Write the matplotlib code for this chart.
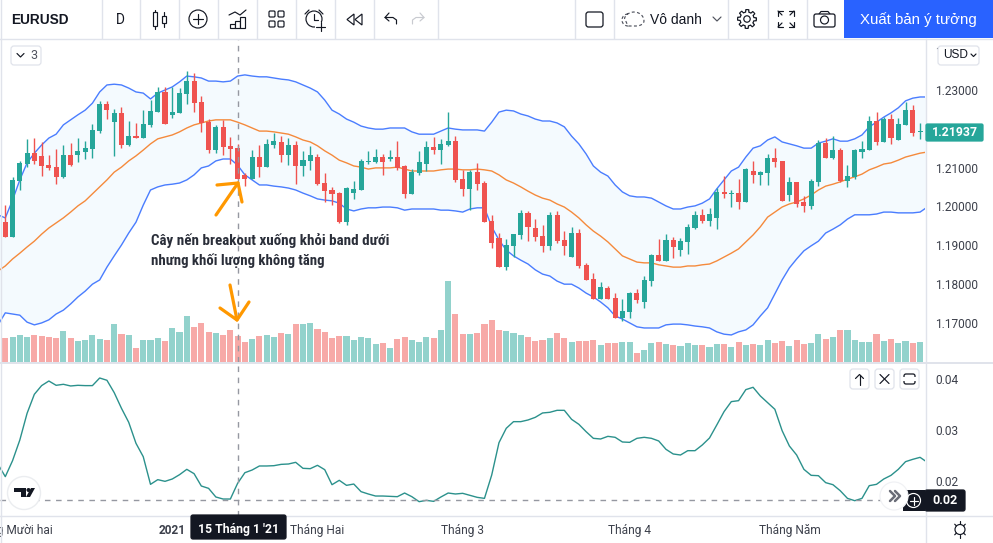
import numpy as np
import matplotlib
matplotlib.use('Agg')
import matplotlib.pyplot as plt
from matplotlib.patches import FancyBboxPatch, Rectangle, Circle, Polygon

# EURUSD daily candles
opens = [1.1959,1.1921,1.2065,1.2109,1.2137,1.2130,1.2106,1.2101,1.2076,1.2132,1.2132,1.2140,1.2148,1.2194,1.2264,1.2217,1.2241,1.2158,1.2181,1.2176,
         1.2210,1.2243,1.2295,1.2236,1.2241,1.2290,1.2323,1.2269,1.2217,1.2145,1.2205,1.2156,1.2150,1.2081,1.2070,1.2127,1.2101,1.2158,1.2166,1.2132,
         1.2158,1.2104,1.2117,1.2127,1.2060,1.2042,1.2034,1.1959,1.2034,1.2042,1.2114,1.2114,1.2127,1.2122,1.2127,1.2104,1.2032,1.2086,1.2109,1.2153,
         1.2145,1.2158,1.2168,1.2070,1.2045,1.2088,1.2060,1.1962,1.1918,1.1843,1.1898,1.1926,1.1983,1.1944,1.1923,1.1898,1.1978,1.1913,1.1869,1.1931,
         1.1849,1.1812,1.1761,1.1789,1.1763,1.1712,1.1727,1.1776,1.1753,1.1807,1.1874,1.1859,1.1913,1.1887,1.1908,1.1944,1.1978,1.1962,1.1970,1.2037,
         1.2032,1.2034,1.2011,1.2091,1.2081,1.2086,1.2125,1.2117,1.2029,1.2063,1.2011,1.2001,1.2063,1.2163,1.2125,1.2145,1.2065,1.2076,1.2140,1.2145,
         1.2220,1.2166,1.2225,1.2171,1.2210,1.2248,1.2192]
closes = [1.1921,1.2068,1.2112,1.2137,1.2117,1.2104,1.2099,1.2076,1.2132,1.2106,1.2143,1.2150,1.2197,1.2264,1.2248,1.2241,1.2158,1.2181,1.2176,1.2212,
          1.2246,1.2295,1.2212,1.2243,1.2292,1.2323,1.2266,1.2215,1.2145,1.2205,1.2153,1.2148,1.2070,1.2070,1.2127,1.2101,1.2161,1.2168,1.2132,1.2158,
          1.2104,1.2119,1.2132,1.2057,1.2039,1.2032,1.1959,1.2047,1.2045,1.2117,1.2117,1.2127,1.2114,1.2127,1.2099,1.2032,1.2088,1.2114,1.2153,1.2145,
          1.2161,1.2168,1.2068,1.2045,1.2088,1.2057,1.1959,1.1905,1.1843,1.1900,1.1928,1.1983,1.1947,1.1921,1.1898,1.1978,1.1910,1.1898,1.1931,1.1846,
          1.1810,1.1761,1.1792,1.1761,1.1712,1.1730,1.1776,1.1758,1.1810,1.1874,1.1859,1.1913,1.1895,1.1910,1.1947,1.1978,1.1962,1.1980,1.2037,1.2032,
          1.2034,1.2011,1.2096,1.2081,1.2088,1.2125,1.2114,1.2014,1.2063,1.2006,1.2001,1.2065,1.2163,1.2125,1.2145,1.2065,1.2078,1.2145,1.2148,1.2220,
          1.2166,1.2225,1.2176,1.2212,1.2248,1.2189,1.21937]
highs = [1.2003,1.2076,1.2117,1.2174,1.2176,1.2166,1.2132,1.2148,1.2158,1.2163,1.2176,1.2168,1.2212,1.2272,1.2272,1.2251,1.2256,1.2220,1.2215,1.2248,
         1.2274,1.2308,1.2308,1.2308,1.2305,1.2349,1.2344,1.2285,1.2225,1.2210,1.2223,1.2179,1.2161,1.2086,1.2145,1.2158,1.2174,1.2189,1.2181,1.2176,
         1.2168,1.2143,1.2156,1.2135,1.2086,1.2050,1.2037,1.2050,1.2065,1.2122,1.2143,1.2148,1.2135,1.2145,1.2168,1.2106,1.2096,1.2143,1.2168,1.2179,
         1.2174,1.2243,1.2181,1.2094,1.2094,1.2112,1.2065,1.1978,1.1931,1.1916,1.1928,1.1990,1.1988,1.1967,1.1952,1.1985,1.1988,1.1936,1.1947,1.1941,
         1.1854,1.1828,1.1805,1.1794,1.1776,1.1761,1.1779,1.1787,1.1820,1.1877,1.1916,1.1928,1.1921,1.1918,1.1954,1.1988,1.1993,1.1996,1.2047,1.2078,
         1.2042,1.2070,1.2099,1.2117,1.2091,1.2135,1.2150,1.2117,1.2076,1.2063,1.2027,1.2070,1.2171,1.2176,1.2181,1.2150,1.2106,1.2148,1.2168,1.2233,
         1.2243,1.2230,1.2238,1.2228,1.2269,1.2261,1.2215]
lows = [1.1921,1.1921,1.2042,1.2101,1.2109,1.2078,1.2094,1.2057,1.2073,1.2104,1.2114,1.2122,1.2125,1.2189,1.2225,1.2130,1.2150,1.2156,1.2176,1.2176,
        1.2205,1.2243,1.2212,1.2228,1.2241,1.2264,1.2243,1.2192,1.2137,1.2137,1.2132,1.2109,1.2070,1.2052,1.2070,1.2076,1.2101,1.2150,1.2114,1.2106,
        1.2057,1.2078,1.2094,1.2055,1.2011,1.2003,1.1957,1.1952,1.2019,1.2042,1.2109,1.2112,1.2081,1.2117,1.2094,1.2021,1.2032,1.2081,1.2091,1.2135,
        1.2109,1.2156,1.2063,1.2027,1.1990,1.2042,1.1959,1.1892,1.1843,1.1836,1.1869,1.1916,1.1910,1.1910,1.1882,1.1887,1.1905,1.1874,1.1869,1.1841,
        1.1810,1.1761,1.1761,1.1761,1.1712,1.1704,1.1712,1.1750,1.1738,1.1794,1.1859,1.1859,1.1867,1.1872,1.1877,1.1941,1.1957,1.1949,1.1941,1.2021,
        1.1998,1.1993,1.2011,1.2060,1.2055,1.2055,1.2101,1.2014,1.2014,1.1998,1.1985,1.1993,1.2052,1.2125,1.2122,1.2063,1.2050,1.2070,1.2125,1.2145,
        1.2158,1.2166,1.2161,1.2171,1.2210,1.2181,1.2174]
volumes = [24,25,27,25,27,26,25,24,31,24,21,22,27,23,22,38,28,27,14,22,22,24,21,34,30,46,35,39,30,29,27,32,26,20,23,26,27,25,29,28,
           38,38,39,33,30,24,26,26,22,25,24,18,19,14,23,25,22,20,25,24,32,81,48,28,28,29,
           38,42,32,31,29,27,25,21,22,24,29,24,20,21,21,22,17,19,19,20,20,9,12,19,20,18,17,16,19,17,17,15,18,18,15,20,17,18,17,22,
           19,21,16,22,18,19,28,23,25,32,32,22,20,20,28,21,23,19,21,19,20]

# Bollinger bands, one point per bar, starting one bar left of the first candle
bb_upper = [1.1978,1.1970,1.2016,1.2068,1.2112,1.2137,1.2158,1.2176,1.2186,1.2210,1.2223,1.2236,1.2248,1.2266,1.2295,1.2313,1.2315,1.2313,1.2305,1.2295,
            1.2292,1.2277,1.2292,1.2300,1.2308,1.2321,1.2336,1.2334,1.2331,1.2323,1.2323,1.2321,1.2323,1.2336,1.2339,1.2336,1.2334,1.2334,1.2331,1.2328,
            1.2326,1.2321,1.2313,1.2305,1.2295,1.2274,1.2248,1.2238,1.2225,1.2217,1.2207,1.2202,1.2199,1.2199,1.2202,1.2202,1.2202,1.2192,1.2186,1.2186,
            1.2186,1.2194,1.2202,1.2199,1.2197,1.2197,1.2197,1.2194,1.2217,1.2243,1.2248,1.2246,1.2238,1.2233,1.2225,1.2220,1.2220,1.2215,1.2205,1.2181,
            1.2161,1.2135,1.2104,1.2088,1.2078,1.2055,1.2037,1.2027,1.2024,1.2024,1.2021,1.2011,1.2001,1.1993,1.1993,1.1998,1.2001,1.2008,1.2019,1.2045,
            1.2068,1.2091,1.2101,1.2127,1.2150,1.2156,1.2171,1.2179,1.2166,1.2161,1.2156,1.2150,1.2150,1.2163,1.2168,1.2174,1.2168,1.2168,1.2174,1.2184,
            1.2205,1.2217,1.2230,1.2241,1.2254,1.2272,1.2279,1.2282,1.2282]
bb_mid = [1.1833,1.1846,1.1864,1.1879,1.1895,1.1910,1.1928,1.1944,1.1957,1.1970,1.1985,1.2001,1.2014,1.2032,1.2050,1.2068,1.2088,1.2101,1.2117,1.2130,
          1.2145,1.2161,1.2174,1.2179,1.2184,1.2192,1.2202,1.2210,1.2215,1.2220,1.2223,1.2223,1.2223,1.2217,1.2210,1.2202,1.2194,1.2194,1.2192,1.2189,
          1.2186,1.2179,1.2171,1.2166,1.2156,1.2143,1.2132,1.2119,1.2112,1.2104,1.2101,1.2096,1.2099,1.2099,1.2099,1.2101,1.2096,1.2091,1.2091,1.2091,
          1.2091,1.2094,1.2096,1.2096,1.2094,1.2094,1.2096,1.2094,1.2091,1.2081,1.2068,1.2060,1.2050,1.2039,1.2029,1.2021,1.2016,1.2006,1.1998,1.1985,
          1.1970,1.1952,1.1936,1.1923,1.1908,1.1890,1.1872,1.1864,1.1856,1.1854,1.1854,1.1849,1.1846,1.1843,1.1843,1.1846,1.1846,1.1849,1.1851,1.1859,
          1.1869,1.1879,1.1890,1.1908,1.1926,1.1947,1.1972,1.1985,1.1998,1.2006,1.2011,1.2019,1.2029,1.2042,1.2052,1.2057,1.2063,1.2070,1.2076,1.2083,
          1.2094,1.2101,1.2109,1.2112,1.2119,1.2127,1.2132,1.2137,1.2140]
bb_lower = [1.1694,1.1725,1.1722,1.1719,1.1701,1.1694,1.1699,1.1707,1.1722,1.1732,1.1748,1.1766,1.1781,1.1799,1.1810,1.1843,1.1872,1.1900,1.1931,1.1959,
            1.2003,1.2042,1.2050,1.2055,1.2057,1.2060,1.2068,1.2081,1.2099,1.2104,1.2117,1.2122,1.2122,1.2106,1.2081,1.2068,1.2055,1.2055,1.2052,1.2050,
            1.2047,1.2042,1.2034,1.2027,1.2019,1.2016,1.2014,1.2008,1.1993,1.1988,1.1993,1.1996,1.1996,1.1998,1.1998,1.1996,1.1990,1.1993,1.1993,1.1993,
            1.1993,1.1990,1.1990,1.1988,1.1985,1.1993,1.1996,1.1996,1.1947,1.1913,1.1887,1.1872,1.1861,1.1851,1.1836,1.1825,1.1820,1.1807,1.1799,1.1799,
            1.1789,1.1776,1.1766,1.1753,1.1738,1.1717,1.1709,1.1699,1.1689,1.1686,1.1686,1.1686,1.1694,1.1696,1.1696,1.1694,1.1691,1.1689,1.1686,1.1676,
            1.1670,1.1668,1.1676,1.1681,1.1694,1.1717,1.1738,1.1774,1.1810,1.1841,1.1864,1.1885,1.1898,1.1910,1.1931,1.1941,1.1952,1.1967,1.1978,1.1978,
            1.1978,1.1980,1.1985,1.1985,1.1983,1.1983,1.1983,1.1985,1.1998]

# lower pane indicator, same bars as the bands
indicator = [.02321,.02079,.02394,.02800,.03325,.03699,.03870,.03961,.03876,.03896,.03863,.03876,.03870,.03870,.04020,.03975,.03732,.03424,.03148,.02735,
             .02472,.01928,.02020,.01987,.02033,.02118,.02223,.02138,.01895,.01849,.01679,.01639,.01639,.01948,.02157,.02210,.02289,.02289,.02295,.02321,
             .02328,.02361,.02243,.02236,.02302,.02216,.01921,.02007,.01908,.01934,.01784,.01738,.01698,.01698,.01692,.01685,.01757,.01685,.01587,.01613,
             .01593,.01679,.01757,.01738,.01751,.01711,.01672,.01652,.02112,.02748,.03030,.03161,.03161,.03194,.03246,.03332,.03345,.03384,.03384,.03207,
             .03109,.02964,.02833,.02820,.02872,.02853,.02761,.02754,.02833,.02853,.02833,.02781,.02617,.02525,.02505,.02590,.02590,.02702,.02840,.03096,
             .03358,.03555,.03574,.03791,.03837,.03666,.03535,.03404,.02984,.02682,.02505,.02223,.02105,.02098,.01961,.01921,.01803,.01652,.01606,.01652,
             .01902,.01928,.02033,.02105,.02223,.02374,.02420,.02459,.02361]

price_ticks = [1.17, 1.18, 1.19, 1.20, 1.21, 1.23, 1.24]
ind_ticks = [0.02, 0.03, 0.04]
month_pos = [0.9, 23, 43, 63, 86, 108]
month_labels = ['Tháng Mười hai', '2021', 'Tháng Hai', 'Tháng 3', 'Tháng 4', 'Tháng Năm']
last_price = 1.21937
cross_bar = 32.1
cross_ind = 0.0162

W, H = 993, 543
GREEN, RED = '#26a69a', '#ef5350'
GREEN_V, RED_V = '#92d2cc', '#f7a9a7'
BORDER = '#e0e3eb'
DARK = '#131722'
GREY = '#9598a1'
FONT = ['Roboto', 'DejaVu Sans']
plt.rcParams['font.family'] = FONT

fig = plt.figure(figsize=(W / 100, H / 100), dpi=100)


def pane(left, top, right, bottom, z):
    a = fig.add_axes([left / W, 1 - bottom / H, (right - left) / W, (bottom - top) / H], zorder=z)
    a.patch.set_visible(False)
    for s in a.spines.values():
        s.set_visible(False)
    a.set_xlim(-0.73, 126.68)
    return a


ax_vol = pane(0, 39, 925, 362, 1)
ax = pane(0, 39, 925, 362, 2)
ax_ind = pane(0, 363, 925, 516, 2)

bars = np.arange(len(opens))
band_x = np.arange(-1, len(bb_upper) - 1)
up = np.array(closes) >= np.array(opens)
colors = [GREEN if u else RED for u in up]

# volume
ax_vol.bar(bars, volumes, width=0.84, color=[GREEN_V if u else RED_V for u in up], linewidth=0)
ax_vol.set_ylim(0, 323)
ax_vol.axis('off')

# bands and candles
ax.fill_between(band_x, bb_lower, bb_upper, color='#f4fafe', linewidth=0, zorder=1)
ax.plot(band_x, bb_upper, color='#4a7dff', lw=1.0, zorder=2)
ax.plot(band_x, bb_lower, color='#4a7dff', lw=1.0, zorder=2)
ax.plot(band_x, bb_mid, color='#f58a3c', lw=1.0, zorder=2)
ax.vlines(bars, lows, highs, colors=colors, lw=1.0, zorder=3)
body_low = np.minimum(opens, closes)
body_h = np.maximum(np.abs(np.array(closes) - np.array(opens)), 0.00025)
ax.bar(bars, body_h, bottom=body_low, width=0.7, color=colors, linewidth=0, zorder=4)
ax.set_ylim(1.15982, 1.24316)
ax.set_xticks([])
ax.yaxis.tick_right()
ax.set_yticks(price_ticks, [f'{t:.5f}' for t in price_ticks])
ax.tick_params(axis='y', length=0, pad=7.5, labelsize=8.6, labelcolor='#3c404b')
ax.axvline(cross_bar, color=GREY, lw=1, dashes=(4, 4), zorder=5)

# indicator pane
ax_ind.plot(band_x, indicator, color='#2b918c', lw=1.0)
ax_ind.set_ylim(0.01305, 0.04315)
ax_ind.yaxis.tick_right()
ax_ind.set_yticks(ind_ticks, [f'{t:.2f}' for t in ind_ticks])
ax_ind.tick_params(axis='y', length=0, pad=7.5, labelsize=8.6, labelcolor='#3c404b')
ax_ind.axvline(cross_bar, color=GREY, lw=1, dashes=(4, 4))
ax_ind.axhline(cross_ind, color=GREY, lw=1, dashes=(4, 4))
ax_ind.set_xticks(month_pos, month_labels)
ax_ind.tick_params(axis='x', length=0, pad=6, labelsize=8.6, labelcolor='#3c404b')
ax_ind.get_xticklabels()[1].set_fontweight('bold')

# everything else is drawn on an overlay in pixel units
ov = fig.add_axes([0, 0, 1, 1], zorder=5)
ov.set_xlim(0, W)
ov.set_ylim(H, 0)
ov.axis('off')


def line(xs, ys, c=DARK, lw=0.85, **kw):
    ov.plot(xs, ys, color=c, lw=lw, solid_capstyle='round', solid_joinstyle='round', **kw)


def box(x0, y0, x1, y1, fc='white', ec=BORDER, r=3, lw=0.9, z=3):
    ov.add_patch(FancyBboxPatch((x0 + r, y0 + r), x1 - x0 - 2 * r, y1 - y0 - 2 * r,
                                boxstyle=f'round,pad={r},rounding_size={r}', fc=fc, ec=ec, lw=lw, zorder=z))


def circle(x, y, r, fc='none', ec=DARK, lw=0.85, z=3):
    ov.add_patch(Circle((x, y), r, fc=fc, ec=ec, lw=lw, zorder=z))


# frame lines
ov.plot([0, W], [38.5, 38.5], color=BORDER, lw=1)
ov.plot([0, W], [362.5, 362.5], color=BORDER, lw=1.4)
ov.plot([0, W], [515.5, 515.5], color=BORDER, lw=1)
ov.plot([925.5, 925.5], [39, H], color=BORDER, lw=1)
ov.plot([0.5, 0.5], [0, H], color=BORDER, lw=1)
for sx in [101, 139, 178, 217, 256, 295, 334, 373, 437, 574, 613, 727, 767, 806]:
    ov.plot([sx + 0.5, sx + 0.5], [0, 38], color=BORDER, lw=1)

# toolbar
ov.text(11, 19.5, 'EURUSD', fontsize=9.8, fontweight='bold', color=DARK, va='center', family='Liberation Sans')
ov.text(120.5, 19.5, 'D', fontsize=9.8, color=DARK, va='center', ha='center')
# chart type
line([155, 155], [10, 29]); line([164, 164], [12, 27])
ov.add_patch(Rectangle((153, 12), 4, 14, fc='white', ec=DARK, lw=0.85, zorder=3))
ov.add_patch(Rectangle((162, 16), 4, 7, fc='white', ec=DARK, lw=0.85, zorder=3))
# add symbol
circle(198, 19, 9)
line([193, 203], [19, 19]); line([198, 198], [14, 24])
# indicators
line([229, 235, 240, 246], [15, 12, 15, 10])
for bx, by in [(230, 24), (235, 21), (240, 17)]:
    ov.add_patch(Rectangle((bx, by), 5, 27.5 - by, fc='white', ec=DARK, lw=0.85))
# layouts
for gx in [269, 278]:
    for gy in [11, 21]:
        box(gx, gy, gx + 6, gy + 6, ec=DARK, r=1.2, lw=0.85)
# alarm
circle(314, 19, 8)
line([314, 314, 318], [14, 20, 20])
line([305, 309], [14, 10]); line([319, 323], [10, 14])
ov.add_patch(Rectangle((315, 22), 11, 10, fc='white', ec='none', zorder=3))
line([316, 325], [26.5, 26.5], zorder=4); line([320.5, 320.5], [22, 31], zorder=4)
# replay
for tx in [347, 355]:
    ov.add_patch(Polygon([(tx + 7, 14), (tx, 19.5), (tx + 7, 25)], closed=True, fc='white', ec=DARK, lw=0.85))
# undo, redo
line([389, 385, 389], [13, 17.5, 21]); line([385, 393, 396.5, 396.5], [17.5, 17.5, 20, 24])
line([420, 424, 420], [13, 17.5, 21], c='#c8cad0'); line([424, 416, 412.5, 412.5], [17.5, 17.5, 20, 24], c='#c8cad0')
# save box and cloud
box(586, 12, 603, 27, ec=DARK, r=2.5)
cx = np.r_[622 + 6 * np.cos(np.linspace(np.pi / 2, 3 * np.pi / 2, 15)) + 6, 634 + 10 * np.cos(np.linspace(np.pi * 0.9, 0, 15)),
           636 + 8 * np.cos(np.linspace(0, -np.pi / 2, 8)), 628]
cy = np.r_[20 + 6 * np.sin(np.linspace(np.pi / 2, 3 * np.pi / 2, 15)) * -1, 21 - 9 * np.sin(np.linspace(np.pi * 0.9, 0, 15)),
           21 - 5 * np.sin(np.linspace(0, -np.pi / 2, 8)), 26]
ov.plot(cx, cy, color='#50535e', lw=0.85, dashes=(2.5, 2))
ov.text(650, 19.5, 'Vô danh', fontsize=10, color=DARK, va='center', family='Liberation Sans')
line([713, 717, 721], [17, 21, 17], c='#50535e')
# settings
circle(747, 19, 3.2)
gear_t = np.linspace(0, 2 * np.pi, 97)
gear_r = 8.2 + 1.2 * np.sign(np.cos(8 * gear_t))
ov.plot(747 + gear_r * np.cos(gear_t), 19 + gear_r * np.sin(gear_t), color=DARK, lw=0.85)
# fullscreen
for ex, ey, dx, dy in [(778, 11, 1, 1), (794, 11, -1, 1), (778, 27, 1, -1), (794, 27, -1, -1)]:
    line([ex + 5 * dx, ex, ex], [ey, ey, ey + 5 * dy])
    line([ex, ex + 4 * dx], [ey, ey + 4 * dy])
# camera
box(814, 14, 835, 27, ec=DARK, r=2)
line([819, 821, 828, 830], [14, 11.5, 11.5, 14])
circle(824.5, 20, 4)
# publish button
ov.add_patch(Rectangle((844, 0), W - 844, 38, fc='#2962ff', ec='none'))
ov.text(918.5, 19.5, 'Xuất bản ý tưởng', fontsize=10.8, color='white', va='center', ha='center', family='Liberation Sans')

# pane controls
box(11, 46, 41, 65)
line([17, 20.5, 24], [53.5, 57, 53.5], c=DARK, zorder=4)
ov.text(33.5, 55.5, '3', fontsize=9, color='#50535e', ha='center', va='center', zorder=4)
box(938, 46, 979, 65)
ov.text(943, 55.5, 'USD', fontsize=8.6, color=DARK, va='center', zorder=4, family='Liberation Sans')
line([971, 973.5, 976], [54, 56.5, 54], c=DARK, zorder=4)
for bx in [850, 875, 900]:
    box(bx, 369, bx + 19, 389)
line([859.5, 859.5], [374.5, 384.5], zorder=4); line([855.5, 859.5, 863.5], [378.5, 374.5, 378.5], zorder=4)
line([880, 889], [374.5, 383.5], zorder=4); line([880, 889], [383.5, 374.5], zorder=4)
box(904, 374, 915, 384, ec=DARK, r=2, z=4)
ov.add_patch(Rectangle((902, 377), 15, 4, fc='white', ec='none', zorder=5))

# annotation arrows
ORANGE = '#ff9800'
line([216, 238, 217], [215, 183, 185], c=ORANGE, lw=2.3)
line([238, 242], [183, 202], c=ORANGE, lw=2.3)
line([230, 237, 220], [285, 320, 308], c=ORANGE, lw=2.3)
line([237, 249], [320, 302], c=ORANGE, lw=2.3)
note_font = ['Liberation Sans Narrow', 'Roboto Condensed', 'Roboto']
ov.text(151, 240, 'Cây nến breakout xuống khỏi band dưới', fontsize=10.8, fontweight='bold',
        color='#2a2e39', va='center', family=note_font)
ov.text(151, 261, 'nhưng khối lượng không tăng', fontsize=10.6, fontweight='bold',
        color='#2a2e39', va='center', family=note_font)

# price and crosshair labels
box(926, 124, 983, 141, fc=GREEN, ec=GREEN, r=1.5)
ov.text(954.5, 132.5, f'{last_price:.5f}', fontsize=8.8, fontweight='bold', color='white', ha='center', va='center', zorder=4)
box(925, 490, 965, 511, fc=DARK, ec=DARK, r=2)
ov.text(945, 500.5, '0.02', fontsize=9, fontweight='bold', color='white', ha='center', va='center', zorder=4)
ov.add_patch(Rectangle((903, 490), 21.5, 21, fc=DARK, ec='none', zorder=3))
circle(913.5, 500.5, 7, ec='white', lw=0.85, z=4)
line([909.5, 917.5], [500.5, 500.5], c='white', zorder=4); line([913.5, 913.5], [496.5, 504.5], c='white', zorder=4)
circle(894, 496, 14, fc='white', ec='#f0f1f4', z=3)
line([890, 895, 890], [491, 496, 501], c='#6a6d78', lw=1.8, zorder=4)
line([895, 900, 895], [491, 496, 501], c='#6a6d78', lw=1.8, zorder=4)
box(191, 515, 286, 539, fc=DARK, ec=DARK, r=2)
ov.text(238.5, 529, "15 Tháng 1 '21", fontsize=8.8, fontweight='bold', color='white', ha='center', va='center', zorder=4)

# logo
circle(24, 493, 16.5, fc='white', ec='#ebedf0', lw=1)
ov.add_patch(Polygon([(14, 488), (26, 488), (26, 497), (21, 497), (21, 492), (14, 492)], closed=True, fc=DARK, ec='none', zorder=4))
ov.add_patch(Circle((28.5, 490), 2, fc=DARK, ec='none', zorder=4))
ov.add_patch(Polygon([(26, 497), (31, 488), (35, 488), (30, 497)], closed=True, fc=DARK, ec='none', zorder=4))

# bottom right settings
circle(960, 529.5, 5)
for t in np.arange(4) * np.pi / 2 + np.pi / 4:
    line([960 + 5 * np.cos(t), 960 + 7.5 * np.cos(t)], [529.5 + 5 * np.sin(t), 529.5 + 7.5 * np.sin(t)])
line([960, 960], [521, 524]); line([960, 960], [535, 538])

fig.savefig('out.png', dpi=100, facecolor='white')
